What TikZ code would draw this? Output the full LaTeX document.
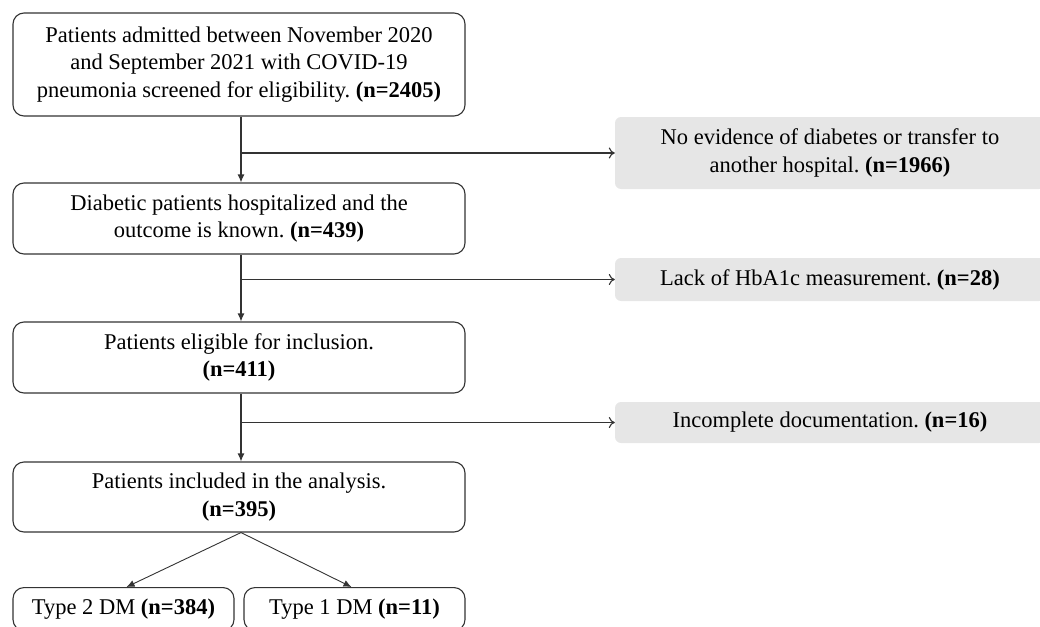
\documentclass[tikz,border=0pt]{standalone}
\usepackage{fontspec}
\setmainfont{Liberation Serif}
\usetikzlibrary{arrows.meta,calc}
\definecolor{lnc}{HTML}{333333}
\definecolor{grayfill}{HTML}{E6E6E6}
\begin{document}
\frenchspacing
\begin{tikzpicture}[x=1pt,y=-1pt,
  mainbox/.style={draw=lnc,line width=1.1pt,rounded corners=11pt,fill=white,align=center,inner sep=0pt,
    font=\fontsize{22.5}{27.5}\selectfont},
  graybox/.style={fill=grayfill,rounded corners=6pt,align=center,inner sep=0pt,
    font=\fontsize{22.5}{27.5}\selectfont},
  vline/.style={draw=lnc,line width=1.1pt,-{Latex[length=8pt,width=7pt]}},
  sline/.style={draw=lnc,line width=1.1pt,-{To[length=6pt,width=11pt]}}]
\useasboundingbox (0,0) rectangle (1040,626);
\node[mainbox,minimum width=452pt,minimum height=103pt] (b1) at (239,64.5)
  {Patients admitted between November 2020\\and September 2021 with COVID-19\\pneumonia screened for eligibility. \textbf{(n=2405)}};
\node[mainbox,minimum width=452pt,minimum height=71pt] (b2) at (239,218.5)
  {Diabetic patients hospitalized and the\\outcome is known. \textbf{(n=439)}};
\node[mainbox,minimum width=452pt,minimum height=71pt] (b3) at (239,357.5)
  {Patients eligible for inclusion.\\\textbf{(n=411)}};
\node[mainbox,minimum width=452pt,minimum height=70pt] (b4) at (239,497)
  {Patients included in the analysis.\\\textbf{(n=395)}};
\node[mainbox,minimum width=221pt,minimum height=43pt,anchor=north] (t2) at (123.5,587)
  {\raisebox{4pt}{Type 2 DM \textbf{(n=384)}}};
\node[mainbox,minimum width=221pt,minimum height=43pt,anchor=north] (t1) at (354.5,587)
  {\raisebox{4pt}{Type 1 DM \textbf{(n=11)}}};
\node[graybox,minimum width=430pt,minimum height=72pt] (g1) at (830,153)
  {No evidence of diabetes or transfer to\\another hospital. \textbf{(n=1966)}};
\node[graybox,minimum width=430pt,minimum height=43pt] (g2) at (830,279.5)
  {Lack of HbA1c measurement. \textbf{(n=28)}};
\node[graybox,minimum width=430pt,minimum height=41pt] (g3) at (830,422.5)
  {Incomplete documentation. \textbf{(n=16)}};
\coordinate (s1) at ($(b1.south)+(2,0)$);
\coordinate (e1) at ($(b2.north)+(2,0)$);
\coordinate (s2) at ($(b2.south)+(2,0)$);
\coordinate (e2) at ($(b3.north)+(2,0)$);
\coordinate (s3) at ($(b3.south)+(2,0)$);
\coordinate (e3) at ($(b4.north)+(2,0)$);
\coordinate (s4) at ($(b4.south)+(2,0)$);
\coordinate (j1) at (s1 |- g1.west);
\coordinate (j2) at (s2 |- g2.west);
\coordinate (j3) at (s3 |- g3.west);
\draw[vline] (s1) -- (e1);
\draw[vline] (s2) -- (e2);
\draw[vline] (s3) -- (e3);
\draw[sline] (j1) -- (g1.west);
\draw[sline] (j2) -- (g2.west);
\draw[sline] (j3) -- (g3.west);
\draw[vline,line width=0.9pt] (s4) -- ($(t2.north)+(3,0)$);
\draw[vline,line width=0.9pt] (s4) -- ($(t1.north)+(-3,0)$);
\end{tikzpicture}
\end{document}
